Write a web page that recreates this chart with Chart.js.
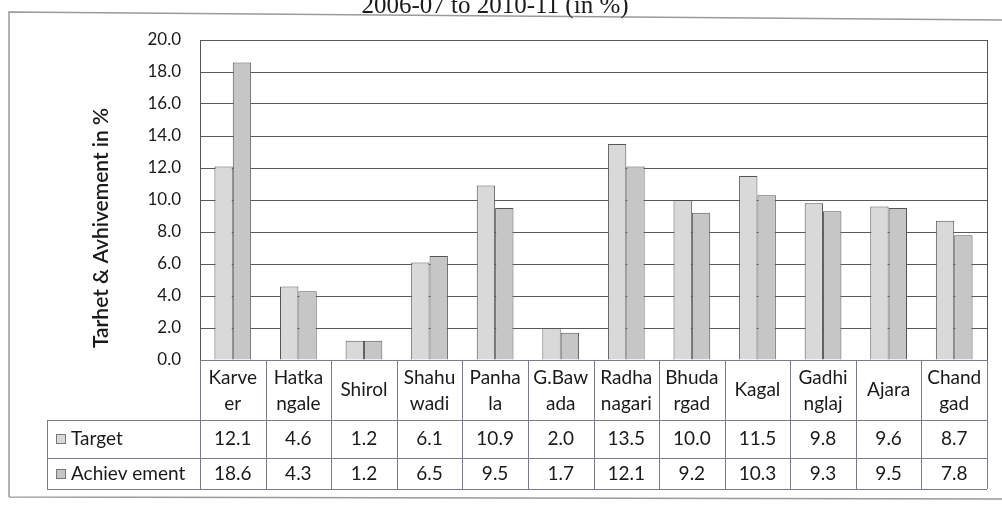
<!DOCTYPE html>
<html>
<head>
<meta charset="utf-8">
<script src="https://cdn.jsdelivr.net/npm/chart.js@4.4.1/dist/chart.umd.min.js"></script>
<style>
html,body{margin:0;padding:0;background:#fff;}
#wrap{position:relative;width:1002px;height:510px;}
</style>
</head>
<body>
<div id="wrap"><canvas id="c" width="1002" height="510"></canvas></div>
<script>
const titleText = "2006-07 to 2010-11 (in %)";
const yAxisTitle = "Tarhet & Avhivement in %";
const categories = [["Karve","er"],["Hatka","ngale"],["Shirol"],["Shahu","wadi"],["Panha","la"],["G.Baw","ada"],["Radha","nagari"],["Bhuda","rgad"],["Kagal"],["Gadhi","nglaj"],["Ajara"],["Chand","gad"]];
const seriesNames = ["Target","Achiev ement"];
const target = [12.1,4.6,1.2,6.1,10.9,2.0,13.5,10.0,11.5,9.8,9.6,8.7];
const achievement = [18.6,4.3,1.2,6.5,9.5,1.7,12.1,9.2,10.3,9.3,9.5,7.8];
const yTicks = [0,2,4,6,8,10,12,14,16,18,20];

const FONT = "Lato, 'Open Sans', sans-serif";
const colors = ["#d9d9d9","#c6c6c6"];

const tablePlugin = {
  id: "tablePlugin",
  afterDraw(chart) {
    const ctx = chart.ctx;
    const a = chart.chartArea;
    const n = categories.length;
    const w = (a.right - a.left) / n;
    const headBottom = 420, row1 = 458, row2 = 489, legLeft = 47;
    ctx.save();
    // outer frame
    ctx.strokeStyle = "#9a9a9a";
    ctx.lineWidth = 1.5;
    ctx.beginPath();
    ctx.moveTo(9, 497); ctx.lineTo(9, 12); ctx.lineTo(1002, 20);
    ctx.moveTo(9, 497); ctx.lineTo(1002, 499);
    ctx.stroke();
    // plot frame right border
    ctx.strokeStyle = "#555";
    ctx.lineWidth = 1;
    ctx.beginPath();
    ctx.moveTo(a.right + 0.5, a.top); ctx.lineTo(a.right + 0.5, a.bottom);
    ctx.stroke();
    // table lines
    ctx.strokeStyle = "#7a7a8a";
    ctx.beginPath();
    for (let i = 0; i <= n; i++) {
      const x = Math.round(a.left + i * w) + 0.5;
      ctx.moveTo(x, a.bottom); ctx.lineTo(x, row2);
    }
    ctx.moveTo(a.left, a.bottom + 0.5); ctx.lineTo(a.right, a.bottom + 0.5);
    [headBottom, row1, row2].forEach(y => { ctx.moveTo(legLeft, y + 0.5); ctx.lineTo(a.right, y + 0.5); });
    ctx.moveTo(legLeft + 0.5, headBottom); ctx.lineTo(legLeft + 0.5, row2);
    ctx.stroke();
    // header labels
    ctx.fillStyle = "#1a1a1a";
    ctx.font = "19px " + FONT;
    ctx.textAlign = "center";
    ctx.textBaseline = "middle";
    categories.forEach((lab, i) => {
      const cx = a.left + (i + 0.5) * w;
      if (lab.length === 1) {
        ctx.fillText(lab[0], cx, 390);
      } else {
        ctx.fillText(lab[0], cx, 378);
        ctx.fillText(lab[1], cx, 404);
      }
    });
    // values
    const rows = [target, achievement];
    const rowMid = [439, 474];
    rows.forEach((arr, r) => {
      arr.forEach((v, i) => {
        const cx = a.left + (i + 0.5) * w;
        ctx.fillText(v.toFixed(1), cx, rowMid[r]);
      });
      // legend key
      ctx.fillStyle = colors[r];
      ctx.fillRect(56, rowMid[r] - 5, 10, 10);
      ctx.strokeStyle = "#777";
      ctx.strokeRect(56.5, rowMid[r] - 4.5, 9, 9);
      ctx.fillStyle = "#1a1a1a";
      ctx.textAlign = "left";
      ctx.fillText(seriesNames[r], 71, rowMid[r]);
      ctx.textAlign = "center";
    });
    // y axis title
    ctx.save();
    ctx.translate(101, 228);
    ctx.rotate(-Math.PI / 2);
    ctx.font = "600 21px " + FONT;
    ctx.textAlign = "center";
    ctx.textBaseline = "middle";
    ctx.fillText(yAxisTitle, 0, 0);
    ctx.restore();
    // chart title (cut at top)
    ctx.font = "25px 'Liberation Serif', 'Times New Roman', serif";
    ctx.textAlign = "center";
    ctx.textBaseline = "alphabetic";
    ctx.fillText(titleText, 495, 13);
    ctx.restore();
  }
};

new Chart(document.getElementById("c"), {
  type: "bar",
  data: {
    labels: categories.map(l => l.join("")),
    datasets: [
      { label: seriesNames[0], data: target, backgroundColor: colors[0], borderColor: "#555", borderWidth: 1, borderSkipped: "bottom" },
      { label: seriesNames[1], data: achievement, backgroundColor: colors[1], borderColor: "#555", borderWidth: 1, borderSkipped: "bottom" }
    ]
  },
  options: {
    responsive: false,
    animation: false,
    layout: { padding: { top: 40, bottom: 150, left: 0, right: 15 } },
    datasets: { bar: { categoryPercentage: 0.56, barPercentage: 1.0 } },
    plugins: { legend: { display: false }, tooltip: { enabled: false }, title: { display: false } },
    scales: {
      x: { display: false },
      y: {
        min: 0, max: 20,
        afterBuildTicks: s => { s.ticks = yTicks.map(v => ({ value: v })); },
        afterFit: s => { s.width = 200; },
        ticks: { color: "#1a1a1a", font: { family: FONT, size: 17 }, padding: 19, callback: v => Number(v).toFixed(1) },
        grid: { color: "#5a5a5a", lineWidth: 1, drawTicks: false },
        border: { color: "#555", width: 1 }
      }
    }
  },
  plugins: [tablePlugin]
});
</script>
</body>
</html>
